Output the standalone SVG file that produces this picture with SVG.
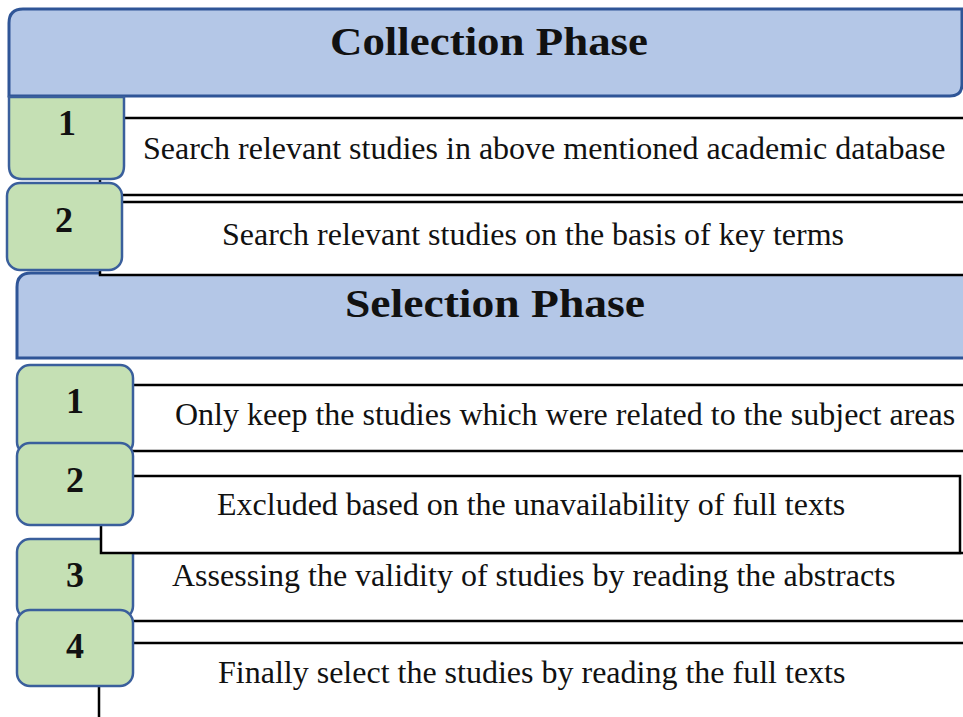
<svg xmlns="http://www.w3.org/2000/svg" width="963" height="717" viewBox="0 0 963 717">
<style>
.hdr{fill:#b4c7e7;stroke:#2f5597;stroke-width:3}
.num{fill:#c5e0b4;stroke:#3a5f9c;stroke-width:2.5}
.bar{fill:#ffffff;stroke:#000000;stroke-width:2.5}
.ttl{font-family:"Liberation Serif","Times New Roman",serif;font-weight:bold;font-size:40px;fill:#111111;text-anchor:middle}
.n{font-family:"Liberation Serif","Times New Roman",serif;font-weight:bold;font-size:36px;fill:#111111;text-anchor:middle}
.t{font-family:"Liberation Serif","Times New Roman",serif;font-size:32px;fill:#111111}
</style>
<rect width="963" height="717" fill="#ffffff"/>

<g id="selection-header">
<path class="hdr" d="M17,358 L17,287 Q17,273 31,273 L975,273 L975,358 Z"/>
</g>

<g id="collection-header">
<path class="hdr" d="M9,96 L9,23 Q9,9 23,9 L962,9 L962,84 Q962,96 950,96 Z"/>
</g>

<g id="connectors">
<rect class="bar" x="100" y="118" width="880" height="77"/>
<rect class="bar" x="100" y="202" width="880" height="73"/>
<rect class="bar" x="100" y="385" width="880" height="66"/>
<rect class="bar" x="100" y="553" width="880" height="68"/>
</g>

<g id="c1">
<path class="num" d="M9,97 L124,97 L124,166 Q124,179 111,179 L22,179 Q9,179 9,166 Z"/>
</g>
<g id="c2">
<rect class="num" x="7" y="183" width="115" height="87" rx="13"/>
</g>
<g id="s1">
<rect class="num" x="17" y="365" width="116" height="90" rx="13"/>
</g>
<g id="s3">
<rect class="num" x="17" y="539" width="116" height="80" rx="13"/>
</g>
<g id="s2-bar">
<rect class="bar" x="101" y="476" width="859" height="77"/>
</g>
<g id="s2">
<rect class="num" x="17" y="443" width="116" height="82" rx="13"/>
</g>
<g id="s4-bar">
<rect class="bar" x="99" y="643" width="880" height="100"/>
</g>
<g id="s4">
<rect class="num" x="17" y="610" width="116" height="76" rx="13"/>
</g>

<g id="labels">
<text class="ttl" x="489" y="55" textLength="318" lengthAdjust="spacingAndGlyphs">Collection Phase</text>
<text class="ttl" x="495" y="317" textLength="300" lengthAdjust="spacingAndGlyphs">Selection Phase</text>
<text class="n" x="67" y="135">1</text>
<text class="n" x="64" y="232">2</text>
<text class="n" x="75" y="413">1</text>
<text class="n" x="75" y="492">2</text>
<text class="n" x="75" y="587">3</text>
<text class="n" x="75" y="658">4</text>
<text class="t" x="143" y="159">Search relevant studies in above mentioned academic database</text>
<text class="t" x="222" y="245">Search relevant studies on the basis of key terms</text>
<text class="t" x="175" y="425">Only keep the studies which were related to the subject areas</text>
<text class="t" x="217" y="515">Excluded based on the unavailability of full texts</text>
<text class="t" x="172" y="586">Assessing the validity of studies by reading the abstracts</text>
<text class="t" x="218" y="683">Finally select the studies by reading the full texts</text>
</g>
</svg>
